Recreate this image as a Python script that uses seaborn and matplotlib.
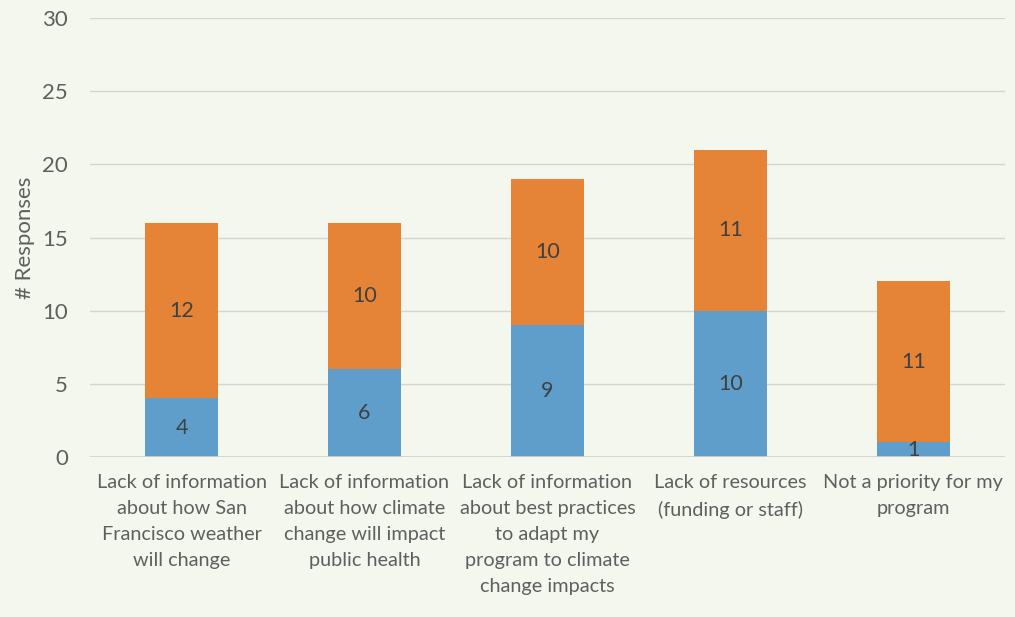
import matplotlib
matplotlib.use("Agg")
import matplotlib.pyplot as plt
import seaborn as sns
import pandas as pd
import numpy as np

categories = [
    "Lack of information\nabout how San\nFrancisco weather\nwill change",
    "Lack of information\nabout how climate\nchange will impact\npublic health",
    "Lack of information\nabout best practices\nto adapt my\nprogram to climate\nchange impacts",
    "Lack of resources\n(funding or staff)",
    "Not a priority for my\nprogram",
]
blue_values = [4, 6, 9, 10, 1]
orange_values = [12, 10, 10, 11, 11]
yticks = [0, 5, 10, 15, 20, 25, 30]

BG = "#f4f7ee"
BLUE = "#5f9dca"
ORANGE = "#e58337"
TXT = "#5f5f5f"

sns.set_theme(style="white")
plt.rcParams["font.family"] = ["Lato", "DejaVu Sans"]

df = pd.DataFrame({
    "cat": categories,
    "blue": blue_values,
    "orange": orange_values,
})
df["total"] = df["blue"] + df["orange"]

fig = plt.figure(figsize=(10.15, 6.17), dpi=100, facecolor=BG)
ax = fig.add_axes([0.0887, 0.2593, 0.9013, 0.7115])
ax.set_facecolor(BG)

for y in yticks[1:]:
    ax.axhline(y, color="#d4d6cf", lw=1.0, zorder=0)

sns.barplot(data=df, x="cat", y="total", color=ORANGE, width=0.4,
            saturation=1, linewidth=0, ax=ax, zorder=2)
sns.barplot(data=df, x="cat", y="blue", color=BLUE, width=0.4,
            saturation=1, linewidth=0, ax=ax, zorder=3)

for i, (b, o) in enumerate(zip(blue_values, orange_values)):
    ax.text(i, b / 2, str(b), ha="center", va="center", fontsize=15.5,
            color="#404040", zorder=5)
    ax.text(i, b + o / 2, str(o), ha="center", va="center", fontsize=15.5,
            color="#404040", zorder=5)

ax.axhline(0, color="#d0d2cb", lw=1.2, zorder=4)
ax.set_ylim(0, 30)
ax.set_xlim(-0.5, 4.5)
ax.set_yticks(yticks)
ax.set_yticklabels([str(t) for t in yticks], fontsize=16, color=TXT)
ax.set_xticks(range(len(categories)))
ax.set_xticklabels(categories, fontsize=14.3, color=TXT, linespacing=1.65)
ax.tick_params(axis="x", length=0, pad=12)
ax.tick_params(axis="y", length=0, pad=16)
ax.set_xlabel("")
ax.set_ylabel("# Responses", fontsize=16, color=TXT, labelpad=5)
for s in ax.spines.values():
    s.set_visible(False)

fig.savefig("out.png", dpi=100, facecolor=BG)
